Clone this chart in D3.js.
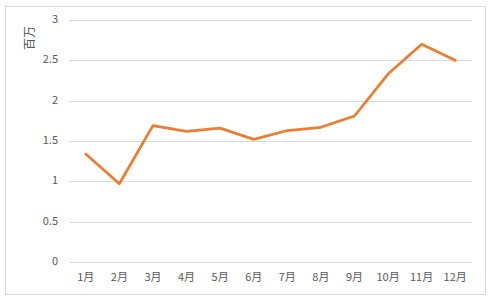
<!DOCTYPE html>
<html>
<head>
<meta charset="utf-8">
<script src="https://cdn.jsdelivr.net/npm/d3@7"></script>
<style>
  html, body { margin: 0; padding: 0; background: #fff; }
</style>
</head>
<body>
<script>
// Monthly values (millions)
const months = ["1月", "2月", "3月", "4月", "5月", "6月", "7月", "8月", "9月", "10月", "11月", "12月"];
const values = [1.34, 0.97, 1.69, 1.62, 1.66, 1.52, 1.63, 1.67, 1.81, 2.33, 2.70, 2.50];
const yTicks = [0, 0.5, 1, 1.5, 2, 2.5, 3];
const yTitle = "百万";

const width = 491, height = 298;
const margin = { top: 20, right: 19, bottom: 36, left: 69 };

const svg = d3.select("body").append("svg")
  .attr("width", width)
  .attr("height", height)
  .attr("font-family", "'Noto Sans CJK SC', 'Liberation Sans', sans-serif");

// chart area border
svg.append("rect")
  .attr("x", 5.5).attr("y", 6.5)
  .attr("width", 480).attr("height", 288)
  .attr("fill", "#fff")
  .attr("stroke", "#d9d9d9");

const x = d3.scaleBand().domain(months).range([margin.left, width - margin.right]);
const y = d3.scaleLinear().domain([0, 3]).range([262, 20]);

// gridlines
svg.append("g")
  .selectAll("line")
  .data(yTicks)
  .join("line")
  .attr("x1", margin.left)
  .attr("x2", width - margin.right)
  .attr("y1", (d) => Math.round(y(d)) + 0.5)
  .attr("y2", (d) => Math.round(y(d)) + 0.5)
  .attr("stroke", "#d9d9d9");

// y axis labels
svg.append("g")
  .selectAll("text")
  .data(yTicks)
  .join("text")
  .attr("x", 58)
  .attr("y", (d) => y(d))
  .attr("text-anchor", "end")
  .attr("dominant-baseline", "middle")
  .attr("font-size", 11)
  .attr("fill", "#595959")
  .text((d) => d);

// x axis labels
svg.append("g")
  .selectAll("text")
  .data(months)
  .join("text")
  .attr("x", (d) => x(d) + x.bandwidth() / 2)
  .attr("y", 278)
  .attr("text-anchor", "middle")
  .attr("dominant-baseline", "middle")
  .attr("font-size", 11)
  .attr("fill", "#595959")
  .text((d) => d);

// axis title
svg.append("text")
  .attr("transform", "translate(31,38) rotate(-90)")
  .attr("text-anchor", "middle")
  .attr("dominant-baseline", "middle")
  .attr("font-size", 12)
  .attr("fill", "#595959")
  .text(yTitle);

// line
const line = d3.line()
  .x((d, i) => x(months[i]) + x.bandwidth() / 2)
  .y((d) => y(d));

svg.append("path")
  .datum(values)
  .attr("d", line)
  .attr("fill", "none")
  .attr("stroke", "#ED7D31")
  .attr("stroke-width", 2.75)
  .attr("stroke-linejoin", "round")
  .attr("stroke-linecap", "round");
</script>
</body>
</html>
